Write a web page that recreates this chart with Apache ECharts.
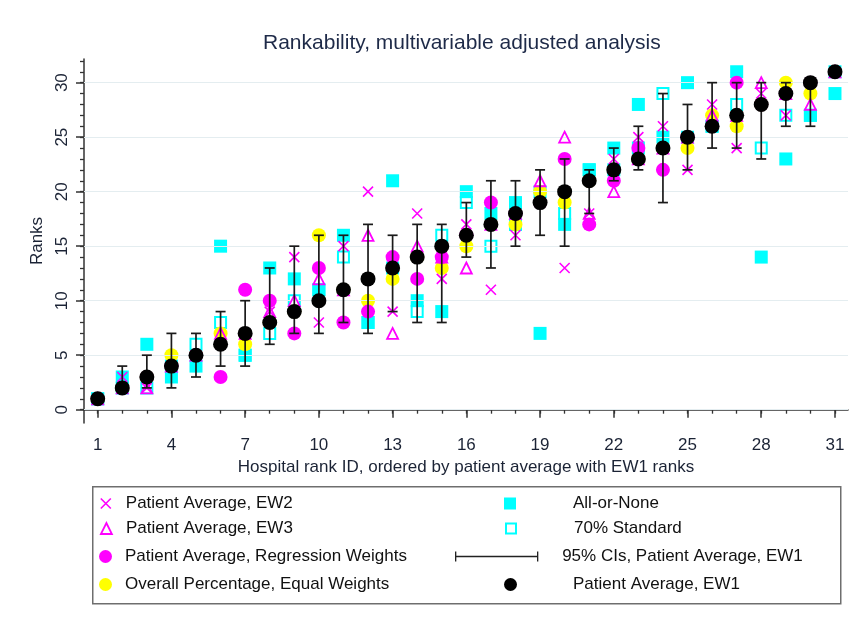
<!DOCTYPE html>
<html>
<head>
<meta charset="utf-8">
<title>Rankability</title>
<script src="https://cdn.jsdelivr.net/npm/echarts@6/dist/echarts.min.js"></script>
<style>
  html, body { margin: 0; padding: 0; background: #fff; }
  #chart { width: 860px; height: 627px; }
</style>
</head>
<body>
<div id="chart"></div>
<script>
// hospital rank IDs
var hospitalIds = [];
for (var h = 1; h <= 31; h++) hospitalIds.push(h);

// ranks
var ew1 = [1,2,3,4,5,6,7,8,9,10,11,12,13,14,15,16,17,18,19,20,21,22,23,24,25,26,27,28,29,30,31];
var ciLow = [1,2,2,2,3,4,4,6,7,7,8,7,9,8,8,14,13,15,16,15,18,21,22,19,22,24,24,23,26,26,31];
var ciHigh = [1,4,5,7,7,9,10,13,15,16,16,17,16,17,17,19,21,21,22,23,22,24,26,29,28,30,30,30,30,30,31];
var ew2 = [1,3,2,4,5,6,7,9,14,8,15,20,9,18,12,17,11,16,19,13,18,23,25,26,22,28,24,29,27,30,31];
var ew3 = [1,2,2,4,5,7,7,9,10,12,11,16,7,15,14,13,17,18,21,25,18,20,23,24,25,27,27,30,29,28,31];
var regression = [1,2,3,4,5,3,11,10,7,13,8,9,14,12,14,16,19,18,19,23,17,21,24,22,25,26,30,28,29,30,31];
var overall = [1,2,3,5,5,7,6,8,9,16,11,10,12,14,13,15,17,17,20,19,21,22,23,24,24,27,26,28,30,29,31];
var allOrNone = [1,3,6,3,4,15,5,13,12,11,16,8,21,10,9,20,18,19,7,17,22,24,28,25,30,26,31,14,23,27,29];
var standard70 = [1,2,2,4,6,8,5,7,10,11,14,8,13,9,16,19,15,17,20,18,22,22,24,29,25,26,28,24,27,27,31];

// axis ticks
var xMinorTicks = hospitalIds;
var xMajorTicks = [1,4,7,10,13,16,19,22,25,28,31];
var yMinorTicks = [];
for (var t = 0; t <= 32; t++) yMinorTicks.push(t);
var yMajorTicks = [0,5,10,15,20,25,30];

var font = 'Liberation Sans, Arial, sans-serif';
var textColor = '#1b2335';

function pairs(vals) {
    return hospitalIds.map(function (id, i) { return [id, vals[i]]; });
}

var myChart = echarts.init(document.getElementById('chart'));

var crossIcon = 'path://M0,0L10,10M10,0L0,10';
var ciIcon = 'path://M0,0h1.6v12h-1.6z M0,5.2h100v1.6h-100z M98.4,0h1.6v12h-1.6z';

function legendBox(name, icon, style, left, centerY, w, h, pad) {
    return {
        left: left, top: centerY - 10, padding: 0,
        itemWidth: w, itemHeight: h,
        selectedMode: false,
        textStyle: { fontSize: 17, fontFamily: font, color: '#111', padding: [0, 0, 0, pad] },
        data: [{ name: name, icon: icon, itemStyle: style }]
    };
}

var option = {
    animation: false,
    backgroundColor: '#fff',
    textStyle: { fontFamily: font },
    title: {
        text: 'Rankability, multivariable adjusted analysis',
        left: 263, top: 33, padding: 0,
        textStyle: { fontSize: 21, fontWeight: 'normal', color: '#1e2a48', fontFamily: font }
    },
    grid: { left: 84, right: 12, top: 59, bottom: 204, containLabel: false },
    xAxis: [{
        type: 'value', position: 'bottom', min: 0.443, max: 31.53,
        splitLine: { show: false },
        axisLine: { show: true, lineStyle: { color: '#333', width: 1.5 } },
        axisTick: { show: true, length: 4, customValues: xMinorTicks, lineStyle: { color: '#333', width: 1.3 } },
        axisLabel: { show: false }
    }, {
        type: 'value', position: 'bottom', min: 0.443, max: 31.53,
        name: 'Hospital rank ID, ordered by patient average with EW1 ranks',
        nameLocation: 'middle', nameGap: 28,
        nameTextStyle: { fontSize: 17, color: textColor, fontFamily: font },
        splitLine: { show: false },
        axisLine: { show: false },
        axisTick: { show: true, length: 8, customValues: xMajorTicks, lineStyle: { color: '#333', width: 1.5 } },
        axisLabel: { show: true, customValues: xMajorTicks, margin: 14, fontSize: 17, color: textColor }
    }],
    yAxis: [{
        type: 'value', position: 'left', min: -1.22, max: 32.17,
        splitLine: { show: false },
        axisLine: { show: true, lineStyle: { color: '#333', width: 1.5 } },
        axisTick: { show: true, length: 4, customValues: yMinorTicks, lineStyle: { color: '#333', width: 1.3 } },
        axisLabel: { show: false }
    }, {
        type: 'value', position: 'left', min: -1.22, max: 32.17,
        name: 'Ranks', nameLocation: 'middle', nameGap: 31, nameRotate: 90,
        nameTextStyle: { fontSize: 17, color: textColor, fontFamily: font },
        splitLine: { show: false },
        axisLine: { show: false },
        axisTick: { show: true, length: 8, customValues: yMajorTicks, lineStyle: { color: '#333', width: 1.5 } },
        axisLabel: { show: true, customValues: yMajorTicks, rotate: 90, margin: 13, fontSize: 17, color: textColor }
    }],
    legend: [
        legendBox('Patient Average, EW2', crossIcon, { color: 'rgba(0,0,0,0)', borderColor: '#ff00ff', borderWidth: 1.6 }, 100, 505, 10, 10, 10),
        legendBox('Patient Average, EW3', 'triangle', { color: 'rgba(0,0,0,0)', borderColor: '#ff00ff', borderWidth: 1.8 }, 100, 530, 11, 11, 9),
        legendBox('Patient Average, Regression Weights', 'circle', { color: '#ff00ff' }, 99, 558, 13, 13, 8),
        legendBox('Overall Percentage, Equal Weights', 'circle', { color: '#ffff00' }, 99, 586, 13, 13, 8),
        legendBox('All-or-None', 'rect', { color: '#00ffff' }, 504, 505, 12, 12, 52),
        legendBox('70% Standard', 'rect', { color: 'rgba(0,0,0,0)', borderColor: '#00ffff', borderWidth: 2 }, 505, 530, 10, 10, 53),
        legendBox('95% CIs, Patient Average, EW1', ciIcon, { color: '#222' }, 455, 558, 105, 10, 8),
        legendBox('Patient Average, EW1', 'circle', { color: '#000' }, 504, 586, 13, 13, 51)
    ],
    graphic: [{
        type: 'rect', left: 92, top: 486, z: -1,
        shape: { width: 748, height: 117 },
        style: { fill: 'rgba(0,0,0,0)', stroke: '#6e6e6e', lineWidth: 1.5 }
    }],
    series: [{
        name: 'grid', type: 'line', data: [], z: 1, silent: true,
        markLine: {
            silent: true, symbol: 'none', label: { show: false },
            lineStyle: { color: '#e4edf0', width: 1.2, type: 'solid' },
            data: yMajorTicks.map(function (v) { return { yAxis: v }; })
        }
    }, {
        name: 'All-or-None', type: 'scatter', z: 2,
        symbol: 'rect', symbolSize: 13,
        itemStyle: { color: '#00ffff', opacity: 1 },
        data: pairs(allOrNone)
    }, {
        name: '70% Standard', type: 'scatter', z: 3,
        symbol: 'rect', symbolSize: 11,
        itemStyle: { color: 'rgba(0,0,0,0)', borderColor: '#00ffff', borderWidth: 2, opacity: 1 },
        data: pairs(standard70)
    }, {
        name: 'Overall Percentage, Equal Weights', type: 'scatter', z: 4,
        symbol: 'circle', symbolSize: 14,
        itemStyle: { color: '#ffff00', opacity: 1 },
        data: pairs(overall)
    }, {
        name: 'Patient Average, Regression Weights', type: 'scatter', z: 5,
        symbol: 'circle', symbolSize: 14,
        itemStyle: { color: '#ff00ff', opacity: 1 },
        data: pairs(regression)
    }, {
        name: 'Patient Average, EW3', type: 'scatter', z: 6,
        symbol: 'triangle', symbolSize: 11,
        itemStyle: { color: 'rgba(0,0,0,0)', borderColor: '#ff00ff', borderWidth: 1.8, opacity: 1 },
        data: pairs(ew3)
    }, {
        name: 'Patient Average, EW2', type: 'scatter', z: 7,
        symbol: crossIcon, symbolSize: 10,
        itemStyle: { color: 'rgba(0,0,0,0)', borderColor: '#ff00ff', borderWidth: 1.6, opacity: 1 },
        data: pairs(ew2)
    }, {
        name: '95% CIs, Patient Average, EW1', type: 'custom', z: 8,
        encode: { x: 0, y: [1, 2] },
        data: hospitalIds.map(function (id, i) { return [id, ciLow[i], ciHigh[i]]; }),
        renderItem: function (params, api) {
            var x = api.value(0);
            var lo = api.coord([x, api.value(1)]);
            var hi = api.coord([x, api.value(2)]);
            var w = 5;
            var st = { stroke: '#1a1a1a', lineWidth: 1.7 };
            return {
                type: 'group',
                children: [
                    { type: 'line', shape: { x1: lo[0], y1: lo[1], x2: hi[0], y2: hi[1] }, style: st },
                    { type: 'line', shape: { x1: lo[0] - w, y1: lo[1], x2: lo[0] + w, y2: lo[1] }, style: st },
                    { type: 'line', shape: { x1: hi[0] - w, y1: hi[1], x2: hi[0] + w, y2: hi[1] }, style: st }
                ]
            };
        }
    }, {
        name: 'Patient Average, EW1', type: 'scatter', z: 9,
        symbol: 'circle', symbolSize: 15,
        itemStyle: { color: '#000', opacity: 1 },
        data: pairs(ew1)
    }]
};

myChart.setOption(option);
</script>
</body>
</html>
